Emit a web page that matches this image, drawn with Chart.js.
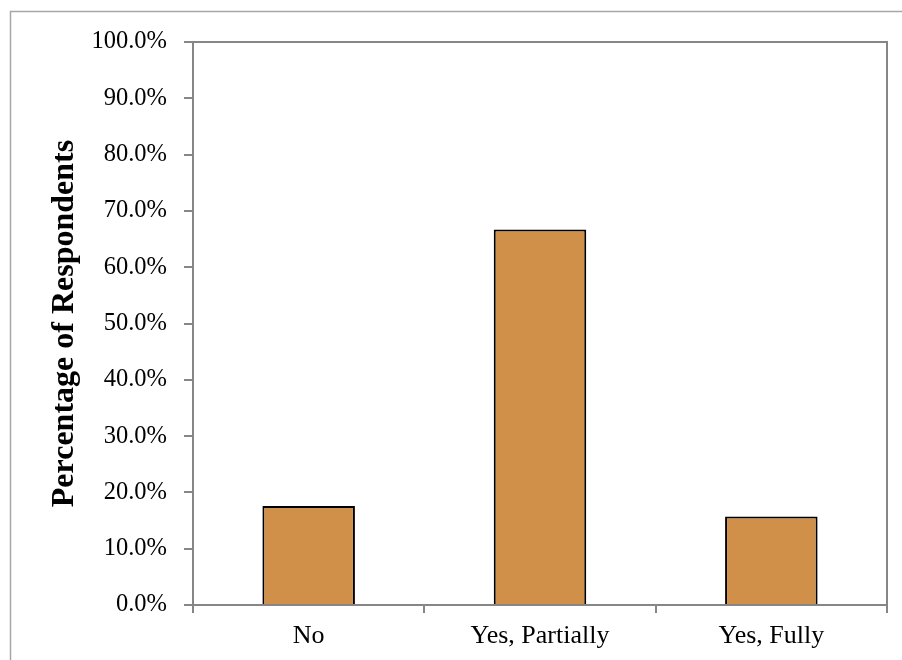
<!DOCTYPE html>
<html>
<head>
<meta charset="utf-8">
<script src="https://cdn.jsdelivr.net/npm/chart.js@4.4.1/dist/chart.umd.min.js"></script>
<style>
  html, body { margin: 0; padding: 0; background: #ffffff; }
  #wrap { width: 902px; height: 660px; }
</style>
</head>
<body>
<div id="wrap"><canvas id="chart" width="902" height="660"></canvas></div>
<script>
// Survey answers and share of respondents (%)
const categories = ['No', 'Yes, Partially', 'Yes, Fully'];
const percentages = [17.6, 66.7, 15.7];
const yTicks = [0, 10, 20, 30, 40, 50, 60, 70, 80, 90, 100];

const AXIS_GREY = '#868686';
const FRAME_GREY = '#a6a6a6';
const SERIF = '"Liberation Serif", "Times New Roman", serif';

// Frame around the whole figure plus the box around the plot area
const framePlugin = {
  id: 'frames',
  beforeDraw(chart) {
    const ctx = chart.ctx;
    ctx.save();
    ctx.fillStyle = '#ffffff';
    ctx.fillRect(0, 0, chart.width, chart.height);
    ctx.strokeStyle = FRAME_GREY;
    ctx.lineWidth = 1.5;
    ctx.beginPath();
    ctx.moveTo(10.5, chart.height + 2);
    ctx.lineTo(10.5, 11.5);
    ctx.lineTo(chart.width + 2, 11.5);
    ctx.stroke();
    ctx.restore();
  },
  afterDatasetsDraw(chart) {
    const {ctx, chartArea: a} = chart;
    ctx.save();
    ctx.strokeStyle = AXIS_GREY;
    ctx.lineWidth = 2;
    ctx.beginPath();
    ctx.moveTo(a.left, a.top);
    ctx.lineTo(a.right, a.top);
    ctx.lineTo(a.right, a.bottom);
    ctx.stroke();
    ctx.restore();
  }
};

new Chart(document.getElementById('chart'), {
  type: 'bar',
  data: {
    labels: categories,
    datasets: [{
      data: percentages,
      backgroundColor: '#d09049',
      borderColor: '#000000',
      borderWidth: 2,
      barPercentage: 0.4,
      categoryPercentage: 1.0
    }]
  },
  options: {
    responsive: false,
    animation: false,
    devicePixelRatio: 1,
    layout: { padding: { top: 42, right: 15, left: 0, bottom: 0 } },
    plugins: {
      legend: { display: false },
      tooltip: { enabled: false }
    },
    scales: {
      x: {
        offset: true,
        grid: {
          offset: true,
          drawOnChartArea: false,
          color: AXIS_GREY,
          lineWidth: 2,
          tickLength: 8
        },
        border: { color: AXIS_GREY, width: 2 },
        ticks: {
          color: '#000000',
          padding: 8,
          font: { family: SERIF, size: 26 }
        },
        afterFit(scale) { scale.height = 55; }
      },
      y: {
        min: 0,
        max: 100,
        afterBuildTicks(scale) {
          scale.ticks = yTicks.map(v => ({ value: v }));
        },
        grid: {
          drawOnChartArea: false,
          color: AXIS_GREY,
          lineWidth: 2,
          tickLength: 9
        },
        border: { color: AXIS_GREY, width: 2 },
        ticks: {
          color: '#000000',
          padding: 17,
          font: { family: SERIF, size: 24.5 },
          callback: v => Number(v).toFixed(1) + '%'
        },
        title: {
          display: true,
          text: 'Percentage of Respondents',
          color: '#000000',
          padding: { top: 46, bottom: 0 },
          font: { family: SERIF, size: 32, weight: 'bold' }
        },
        afterFit(scale) { scale.width = 193; }
      }
    }
  },
  plugins: [framePlugin]
});
</script>
</body>
</html>
